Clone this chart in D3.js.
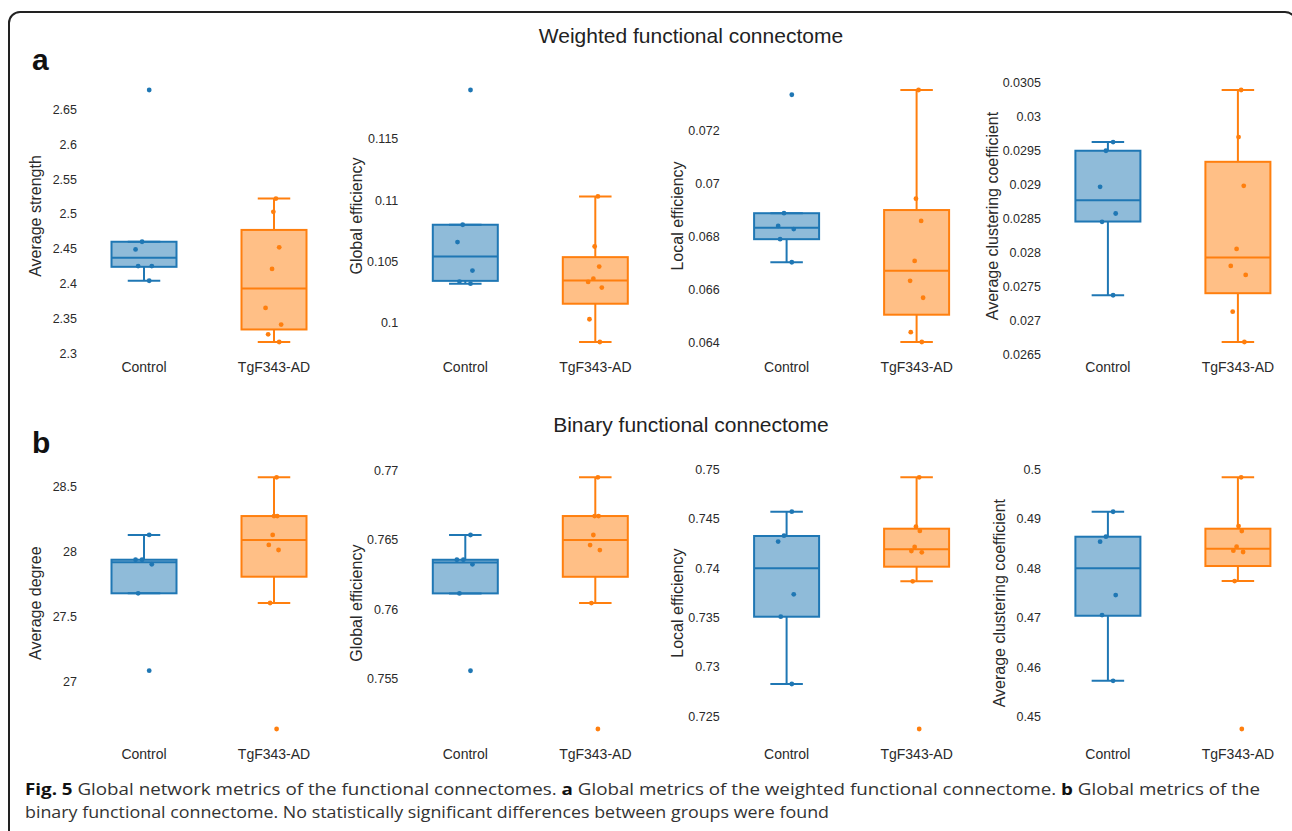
<!DOCTYPE html>
<html>
<head>
<meta charset="utf-8">
<script src="https://cdn.jsdelivr.net/npm/d3@7"></script>
<style>
  body { margin: 0; background: #fff; }
  svg { display: block; }
  text { font-family: "Liberation Sans", Arial, sans-serif; }
  text.caption { font-family: "Open Sans", sans-serif; }
</style>
</head>
<body>
<div id="container"></div>
<script>
const width = 1292, height = 831;

const groups = ['Control', 'TgF343-AD'];
const sectionTitles = ['Weighted functional connectome', 'Binary functional connectome'];
const sectionLetters = ['a', 'b'];
const metricNames = [
    'Average strength', 'Global efficiency', 'Local efficiency', 'Average clustering coefficient',
    'Average degree', 'Global efficiency', 'Local efficiency', 'Average clustering coefficient'
];

// one row per panel
const controlValues = [
    [2.678, 2.460, 2.449, 2.425, 2.425, 2.404],
    [0.1190, 0.10798, 0.10656, 0.10423, 0.10333, 0.10316],
    [0.07333, 0.06886, 0.06838, 0.06826, 0.06788, 0.06701],
    [0.029627, 0.029499, 0.028968, 0.028574, 0.028451, 0.027370],
    [28.129, 27.938, 27.938, 27.903, 27.679, 27.082],
    [0.76535, 0.76356, 0.76356, 0.76323, 0.76113, 0.75554],
    [0.74574, 0.74330, 0.74270, 0.73736, 0.73509, 0.72827],
    [0.49144, 0.48639, 0.48538, 0.47460, 0.47056, 0.45727]
];
const controlJitter = [
    [.08, -.03, -.13, -.09, .12, .08],
    [.08, -.04, -.12, .11, -.09, .08],
    [.08, -.04, -.13, .11, -.10, .08],
    [.08, -.03, -.12, .12, -.09, .08],
    [.08, -.13, -.03, .12, -.09, .08],
    [.08, -.13, -.03, .11, -.09, .08],
    [.08, -.04, -.13, .11, -.09, .08],
    [.08, -.03, -.12, .12, -.09, .08]
];
// [lower whisker, q1, median, q3, upper whisker]
const controlBoxes = [
    [2.404, 2.424, 2.437, 2.460, 2.460],
    [0.10316, 0.10339, 0.10538, 0.10798, 0.10798],
    [0.06701, 0.06788, 0.06831, 0.06886, 0.06886],
    [0.027370, 0.028456, 0.028771, 0.029499, 0.029627],
    [27.679, 27.679, 27.918, 27.938, 28.129],
    [0.76113, 0.76113, 0.76337, 0.76356, 0.76535],
    [0.72827, 0.73509, 0.74000, 0.74327, 0.74574],
    [0.45727, 0.47042, 0.48000, 0.48639, 0.49144]
];

const tgValues = [
    [2.522, 2.503, 2.452, 2.421, 2.365, 2.341, 2.327, 2.316],
    [0.11030, 0.10620, 0.10456, 0.10357, 0.10330, 0.10284, 0.10025, 0.09839],
    [0.07351, 0.06941, 0.06857, 0.06706, 0.06631, 0.06567, 0.06437, 0.06400],
    [0.030394, 0.029701, 0.028982, 0.028053, 0.027802, 0.027670, 0.027128, 0.026681],
    [28.574, 28.275, 28.275, 28.129, 28.052, 28.013, 27.604, 26.632],
    [0.76952, 0.76672, 0.76672, 0.76535, 0.76462, 0.76426, 0.76043, 0.75133],
    [0.74922, 0.74422, 0.74378, 0.74216, 0.74175, 0.74162, 0.73868, 0.72371],
    [0.49840, 0.48855, 0.48754, 0.48437, 0.48356, 0.48330, 0.47743, 0.44753]
];
const tgJitter = [
    [.03, -.01, .08, -.03, -.13, .11, -.09, .08],
    [.04, -.01, .06, -.03, -.11, .10, -.09, .07],
    [.03, -.01, .07, -.03, -.10, .10, -.09, .08],
    [.05, .01, .09, -.02, -.11, .12, -.08, .10],
    [.04, 0, .05, -.02, -.08, .07, -.06, .04],
    [.04, -.01, .05, -.03, -.08, .07, -.06, .04],
    [.04, -.01, .05, -.03, -.08, .08, -.06, .04],
    [.05, .01, .06, -.02, -.07, .08, -.05, .06]
];
const tgBoxes = [
    [2.316, 2.334, 2.393, 2.477, 2.522],
    [0.09839, 0.10152, 0.10341, 0.10533, 0.11030],
    [0.06400, 0.06503, 0.06669, 0.06898, 0.07351],
    [0.026681, 0.027400, 0.027925, 0.029336, 0.030394],
    [27.604, 27.807, 28.090, 28.275, 28.574],
    [0.76043, 0.76233, 0.76499, 0.76672, 0.76952],
    [0.73868, 0.74016, 0.74193, 0.74401, 0.74922],
    [0.47743, 0.48047, 0.48397, 0.48801, 0.49840]
];

const tickValues = [
    [2.3, 2.35, 2.4, 2.45, 2.5, 2.55, 2.6, 2.65],
    [0.1, 0.105, 0.11, 0.115],
    [0.064, 0.066, 0.068, 0.07, 0.072],
    [0.0265, 0.027, 0.0275, 0.028, 0.0285, 0.029, 0.0295, 0.03, 0.0305],
    [27, 27.5, 28, 28.5],
    [0.755, 0.76, 0.765, 0.77],
    [0.725, 0.73, 0.735, 0.74, 0.745, 0.75],
    [0.45, 0.46, 0.47, 0.48, 0.49, 0.5]
];

const colors = { 'Control': '#1f77b4', 'TgF343-AD': '#ff7f0e' };

const firstLeft = 79, colStep = 321.3, plotW = 260;
const rows = [
    { top: 77.4, bottom: 354.6, titleY: 43, letterY: 70 },
    { top: 464.7, bottom: 741.6, titleY: 431.5, letterY: 453 }
];

const svg = d3.select('#container').append('svg')
    .attr('width', width)
    .attr('height', height)
    .attr('viewBox', [0, 0, width, height]);

svg.append('rect')
    .attr('width', width).attr('height', height)
    .attr('fill', '#fff');

// frame around the figure
svg.append('rect')
    .attr('x', 9).attr('y', 12)
    .attr('width', 1287).attr('height', 900)
    .attr('rx', 11)
    .attr('fill', 'none')
    .attr('stroke', '#222')
    .attr('stroke-width', 2);

rows.forEach((r, ri) => {
    svg.append('text')
        .attr('x', (firstLeft + firstLeft + 3 * colStep + plotW) / 2)
        .attr('y', r.titleY)
        .attr('text-anchor', 'middle')
        .attr('font-size', 21)
        .attr('fill', '#222')
        .text(sectionTitles[ri]);
    svg.append('text')
        .attr('x', 32)
        .attr('y', r.letterY)
        .attr('font-size', 30)
        .attr('font-weight', 'bold')
        .attr('fill', '#111')
        .text(sectionLetters[ri]);
});

function drawPanel(i) {
    const r = rows[Math.floor(i / 4)];
    const left = firstLeft + (i % 4) * colStep;
    const g = svg.append('g').attr('class', 'panel');

    const all = controlValues[i].concat(tgValues[i]);
    const ext = d3.extent(all);
    const pad = (ext[1] - ext[0]) * 0.05;
    const y = d3.scaleLinear([ext[0] - pad, ext[1] + pad], [r.bottom, r.top]);
    const x = d3.scaleBand(groups, [left, left + plotW]);

    const yAxis = g.append('g')
        .attr('transform', `translate(${left},0)`)
        .call(d3.axisLeft(y).tickValues(tickValues[i]).tickFormat(d => d).tickSize(0).tickPadding(2));
    yAxis.select('.domain').remove();
    yAxis.selectAll('text')
        .attr('font-size', 12.5)
        .attr('fill', '#2a2a2a')
        .style('font-family', '"Liberation Sans", Arial, sans-serif');

    const xAxis = g.append('g')
        .attr('transform', `translate(0,${r.bottom})`)
        .call(d3.axisBottom(x).tickSize(0).tickPadding(7.5));
    xAxis.select('.domain').remove();
    xAxis.selectAll('text')
        .attr('font-size', 14)
        .attr('fill', '#2a2a2a')
        .style('font-family', '"Liberation Sans", Arial, sans-serif');

    let labelW = 0;
    yAxis.selectAll('text').each(function() {
        labelW = Math.max(labelW, this.getComputedTextLength());
    });
    const tx = left - Math.max(44, labelW + 12);
    const ty = (r.top + r.bottom) / 2;
    g.append('text')
        .attr('transform', `translate(${tx},${ty}) rotate(-90)`)
        .attr('dy', '0.35em')
        .attr('text-anchor', 'middle')
        .attr('font-size', 16)
        .attr('fill', '#2a2a2a')
        .text(metricNames[i]);

    const series = [
        { name: groups[0], vals: controlValues[i], jit: controlJitter[i], box: controlBoxes[i] },
        { name: groups[1], vals: tgValues[i], jit: tgJitter[i], box: tgBoxes[i] }
    ];

    series.forEach(s => {
        const c = colors[s.name];
        const cx = x(s.name) + x.bandwidth() / 2;
        const bw = x.bandwidth() * 0.5;
        const b = s.box;
        const bg = g.append('g').attr('stroke', c).attr('stroke-width', 2);

        bg.append('line')
            .attr('x1', cx).attr('x2', cx)
            .attr('y1', y(b[0])).attr('y2', y(b[1]));
        bg.append('line')
            .attr('x1', cx).attr('x2', cx)
            .attr('y1', y(b[3])).attr('y2', y(b[4]));
        [b[0], b[4]].forEach(v => {
            bg.append('line')
                .attr('x1', cx - bw / 4).attr('x2', cx + bw / 4)
                .attr('y1', y(v)).attr('y2', y(v));
        });
        bg.append('rect')
            .attr('x', cx - bw / 2)
            .attr('y', y(b[3]))
            .attr('width', bw)
            .attr('height', y(b[1]) - y(b[3]))
            .attr('fill', c)
            .attr('fill-opacity', 0.5);
        bg.append('line')
            .attr('x1', cx - bw / 2).attr('x2', cx + bw / 2)
            .attr('y1', y(b[2])).attr('y2', y(b[2]));

        g.append('g').selectAll('circle')
            .data(s.vals)
            .join('circle')
                .attr('cx', (d, k) => cx + s.jit[k] * bw)
                .attr('cy', d => y(d))
                .attr('r', 2.4)
                .attr('fill', c);
    });
}

for (let i = 0; i < 8; i++) drawPanel(i);

// caption
const cap = svg.append('g')
    .attr('font-size', 16.5)
    .attr('fill', '#333');

const line1 = cap.append('text')
    .attr('class', 'caption')
    .attr('x', 25).attr('y', 795)
    .attr('textLength', 1235)
    .attr('lengthAdjust', 'spacingAndGlyphs');
line1.append('tspan').attr('font-weight', 700).attr('fill', '#111').text('Fig. 5');
line1.append('tspan').text(' Global network metrics of the functional connectomes. ');
line1.append('tspan').attr('font-weight', 700).attr('fill', '#111').text('a');
line1.append('tspan').text(' Global metrics of the weighted functional connectome. ');
line1.append('tspan').attr('font-weight', 700).attr('fill', '#111').text('b');
line1.append('tspan').text(' Global metrics of the');

cap.append('text')
    .attr('class', 'caption')
    .attr('x', 25).attr('y', 818)
    .attr('textLength', 804)
    .attr('lengthAdjust', 'spacingAndGlyphs')
    .text('binary functional connectome. No statistically significant differences between groups were found');
</script>
</body>
</html>
